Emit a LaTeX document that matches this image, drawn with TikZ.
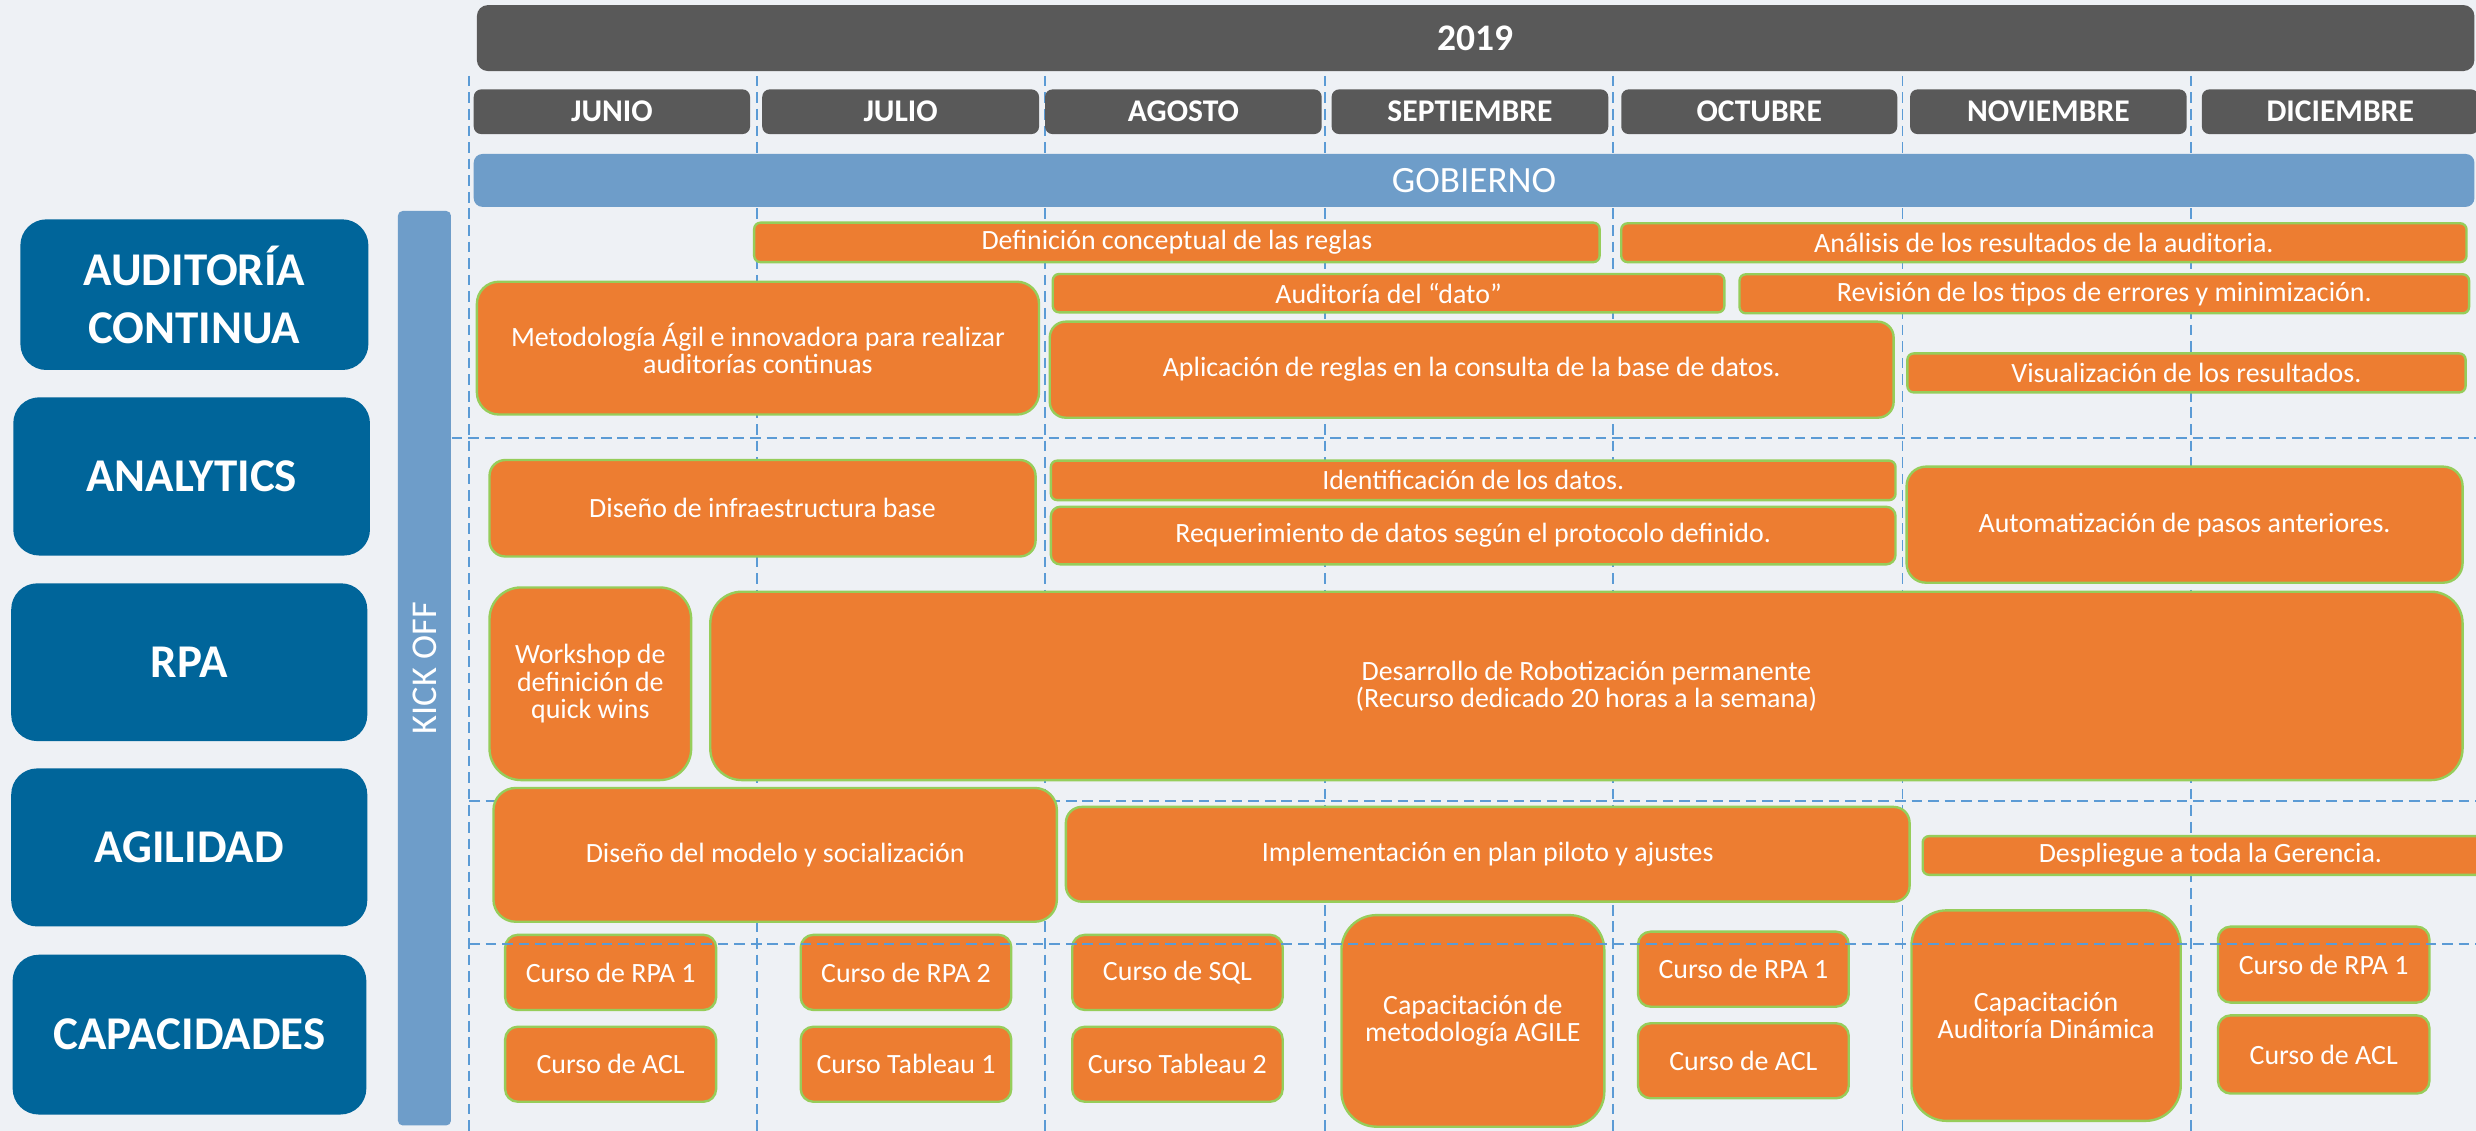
\documentclass[tikz,border=0pt]{standalone}
\usepackage{fontspec}
\setmainfont{Carlito}
\definecolor{bg}{RGB}{238,241,245}
\definecolor{dgrey}{RGB}{89,89,89}
\definecolor{lblue}{RGB}{110,157,201}
\definecolor{dblue}{RGB}{0,101,154}
\definecolor{orng}{RGB}{237,125,49}
\definecolor{lgreen}{RGB}{150,205,90}
\definecolor{dashblue}{RGB}{91,155,213}
\tikzset{
 obox/.style={fill=orng, draw=lgreen, line width=0.6pt, text=white, align=center, inner sep=0pt, font=\fontsize{7.07}{6.9}\selectfont},
 bbox/.style={fill=dblue, text=white, align=center, inner sep=0pt, font=\fontsize{11.9}{14.8}\selectfont\bfseries},
 gbox/.style={fill=dgrey, text=white, inner sep=0pt, font=\fontsize{8}{9.6}\selectfont\bfseries},
 lbbox/.style={fill=lblue, text=white, inner sep=0pt},
 gridline/.style={draw=dashblue, line width=0.5pt, dash pattern=on 2.7pt off 1.5pt},
}
% style, x1, y1, x2, y2, name, radius, text
\newcommand\boxat[8]{\node[#1, rounded corners=#7, minimum width={(#4-#2)*0.4pt}, minimum height={(#5-#3)*0.4pt}] (#6) at ({(#2+#4)/2},{(#3+#5)/2}) {#8};}
\begin{document}
\begin{tikzpicture}[x=0.4pt,y=-0.4pt]
\useasboundingbox (0,0) rectangle (1568,716);
\clip (0,0) rectangle (1568,716);
\fill[bg] (0,0) rectangle (1568,716);
% vertical grid
\foreach \gx in {297,479.5,661.8,839,1021.4,1204.8,1387.8}
  \draw[gridline] (\gx,48) -- (\gx,716);
\draw[gridline] (286,277.6) -- (1568,277.6);
\draw[gridline] (297,507) -- (1568,507);
% header
\boxat{gbox,font=\fontsize{9.5}{11}\selectfont\bfseries}{302}{3.2}{1567}{45}{year}{2.8pt}{2019}
\boxat{gbox}{300}{56.6}{475}{84.9}{m6}{1.9pt}{JUNIO}
\boxat{gbox}{482.7}{56.6}{658}{84.9}{m7}{1.9pt}{JULIO}
\boxat{gbox}{661.8}{56.6}{837}{84.9}{m8}{1.9pt}{AGOSTO}
\boxat{gbox}{843.3}{56.6}{1018.5}{84.9}{m9}{1.9pt}{SEPTIEMBRE}
\boxat{gbox}{1026.7}{56.6}{1201.5}{84.9}{m10}{1.9pt}{OCTUBRE}
\boxat{gbox}{1209.6}{56.6}{1384.8}{84.9}{m11}{1.9pt}{NOVIEMBRE}
\boxat{gbox}{1394.4}{56.6}{1569.6}{84.9}{m12}{1.9pt}{DICIEMBRE}
\boxat{lbbox,font=\fontsize{9.4}{11}\selectfont}{300}{97.5}{1567}{131}{gob}{2.2pt}{GOBIERNO}
% kick off bar
\boxat{lbbox}{252}{133.6}{285.6}{712.7}{kickbar}{1.2pt}{}
\node[text=white, font=\fontsize{9.2}{11}\selectfont, rotate=90, inner sep=0pt] (kick) at (kickbar.center) {KICK OFF};
% left categories
\boxat{bbox}{12.9}{138.9}{233.3}{234.3}{cat1}{6.6pt}{AUDITORÍA\\CONTINUA}
\boxat{bbox}{8.4}{251.6}{234.3}{351.8}{cat2}{6.6pt}{ANALYTICS}
\boxat{bbox}{7.1}{369.4}{232.6}{469.3}{cat3}{6.6pt}{RPA}
\boxat{bbox}{7.1}{486.6}{232.6}{586.7}{cat4}{6.6pt}{AGILIDAD}
\boxat{bbox}{8}{604.6}{232}{705.8}{cat5}{6.6pt}{CAPACIDADES}
% auditoria continua
\boxat{obox}{477.6}{141}{1013}{166}{def}{1.6pt}{Definición conceptual de las reglas}
\boxat{obox}{1026.7}{141.4}{1562}{166}{ana}{1.6pt}{Análisis de los resultados de la auditoria.}
\boxat{obox}{302}{178.4}{658}{262.5}{met}{5.6pt}{Metodología Ágil e innovadora para realizar\\auditorías continuas}
\boxat{obox}{666.7}{173.5}{1092}{197.8}{dato}{1.6pt}{Auditoría del “dato”}
\boxat{obox}{1101.6}{173.7}{1563.6}{198.4}{rev}{1.6pt}{Revisión de los tipos de errores y minimización.}
\boxat{obox}{664.8}{203.7}{1199.2}{264.5}{apl}{4pt}{Aplicación de reglas en la consulta de la base de datos.}
\boxat{obox}{1207.9}{223.8}{1561.4}{248.5}{vis}{1.6pt}{Visualización de los resultados.}
% analytics
\boxat{obox}{310}{291.3}{655.8}{352.4}{infra}{4pt}{Diseño de infraestructura base}
\boxat{obox}{665.5}{291.7}{1200.4}{316.7}{ident}{1.6pt}{Identificación de los datos.}
\boxat{obox}{665.5}{320.9}{1200.4}{357.4}{req}{2.4pt}{Requerimiento de datos según el protocolo definido.}
\boxat{obox}{1207.4}{295.5}{1559.5}{369}{auto}{4.9pt}{Automatización de pasos anteriores.}
% rpa
\boxat{obox}{310}{372}{437.7}{494}{work}{8pt}{Workshop de\\definición de\\quick wins}
\boxat{obox}{449.8}{374.7}{1559.5}{494}{desa}{8pt}{Desarrollo de Robotización permanente\\(Recurso dedicado 20 horas a la semana)}
% agilidad
\boxat{obox}{312.5}{499}{669.3}{583.7}{mod}{5.6pt}{Diseño del modelo y socialización}
\boxat{obox}{675}{511}{1209.3}{571}{impl}{4pt}{Implementación en plan piloto y ajustes}
\boxat{obox}{1217.6}{529.5}{1582}{554}{desp}{1.6pt}{Despliegue a toda la Gerencia.}
% capacidades
\boxat{obox}{319.9}{592}{453.5}{639.6}{c1a}{3.2pt}{Curso de RPA 1}
\boxat{obox}{319.9}{650.2}{453.5}{697.7}{c1b}{3.2pt}{Curso de ACL}
\boxat{obox}{507.1}{592}{640.4}{639.6}{c2a}{3.2pt}{Curso de RPA 2}
\boxat{obox}{507.1}{650.2}{640.4}{697.7}{c2b}{3.2pt}{Curso Tableau 1}
\boxat{obox}{679}{592}{812.3}{639.6}{c3a}{3.2pt}{Curso de SQL}
\boxat{obox}{679}{650.2}{812.3}{697.7}{c3b}{3.2pt}{Curso Tableau 2}
\boxat{obox}{849.5}{579.5}{1016}{713.5}{agile}{8.9pt}{Capacitación de\\metodología AGILE}
\boxat{obox}{1037.3}{590}{1170.8}{637.5}{c4a}{3.2pt}{Curso de RPA 1}
\boxat{obox}{1037.3}{648}{1170.8}{695.5}{c4b}{3.2pt}{Curso de ACL}
\boxat{obox}{1210.5}{576.5}{1381}{709.8}{dyn}{8.9pt}{Capacitación\\Auditoría Dinámica}
\boxat{obox}{1404.6}{586.8}{1538.5}{634.9}{c5a}{3.2pt}{Curso de RPA 1}
\boxat{obox}{1404.6}{643}{1538.5}{692.5}{c5b}{3.2pt}{Curso de ACL}
% grid line drawn over the training boxes
\draw[gridline] (297,598) -- (1568,598);
\end{tikzpicture}
\end{document}
